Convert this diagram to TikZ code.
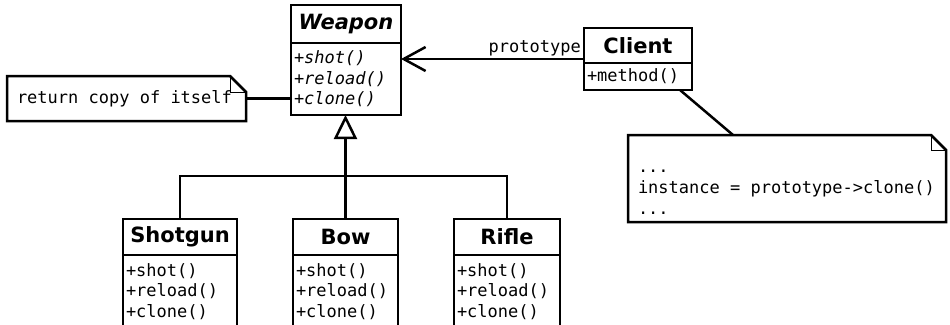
\documentclass[tikz,border=0pt]{standalone}
\usepackage{fontspec}
\setmainfont{DejaVu Sans}
\newfontfamily\monof{DejaVu Sans Mono}
\newcommand\msp{\hspace*{0.6021em}}
\usetikzlibrary{arrows.meta,calc}
\begin{document}
\begin{tikzpicture}[x=1pt,y=-1pt,
  ln/.style={line width=2.5pt},
  cname/.style={draw, ln, outer sep=0pt, inner sep=0pt, font=\fontsize{21}{24}\selectfont\bfseries},
  cmeth/.style={draw, ln, outer sep=0pt, anchor=north, align=left, inner xsep=3pt, inner ysep=0pt, font=\monof\fontsize{17}{20.5}\selectfont},
  notetext/.style={align=left, inner ysep=0pt, outer sep=0pt, font=\monof\fontsize{17}{21}\selectfont},
  fold/.style={line width=1pt}]
\useasboundingbox (0,0) rectangle (950,324);
\fill[white] (0,0) rectangle (950,324);

% Weapon
\node[cname, minimum width=110pt, minimum height=38pt] (weaponn) at (346,24) {\itshape Weapon};
\node[cmeth, text width=104pt, minimum height=72pt] (weaponm) at (weaponn.south) {\itshape +shot()\\\itshape +reload()\\\itshape +clone()};

% Client
\node[cname, minimum width=108pt, minimum height=35pt] (clientn) at (638,45.5) {Client};
\node[cmeth, text width=102pt, minimum height=27pt] (clientm) at (clientn.south) {+method()};

% Subclasses
\node[cname, minimum width=114pt, minimum height=36pt] (shotgunn) at (180,237) {Shotgun};
\node[cmeth, text width=108pt, minimum height=73pt] (shotgunm) at (shotgunn.south) {+shot()\\+reload()\\+clone()};
\node[cname, minimum width=105pt, minimum height=36pt] (bown) at (345.5,237) {Bow};
\node[cmeth, text width=99pt, minimum height=73pt] (bowm) at (bown.south) {+shot()\\+reload()\\+clone()};
\node[cname, minimum width=106pt, minimum height=36pt] (riflen) at (507,237) {Rifle};
\node[cmeth, text width=100pt, minimum height=73pt] (riflem) at (riflen.south) {+shot()\\+reload()\\+clone()};

% Notes
\node[notetext, text width=219pt, inner xsep=10pt, minimum height=45pt] (note1) at (126.5,98.5) {return\msp copy\msp of\msp itself};
\draw[ln] (note1.north west) -- ([xshift=-16pt]note1.north east) -- ([yshift=-16pt]note1.north east) -- (note1.south east) -- (note1.south west) -- cycle;
\draw[fold] ([xshift=-16pt]note1.north east) |- ([yshift=-16pt]note1.north east);

\node[notetext, text width=298pt, inner xsep=10pt, minimum height=87pt] (note2) at (787,178.5) {\rule{0pt}{29pt}...\\instance\msp=\msp prototype->clone()\\...};
\draw[ln] (note2.north west) -- ([xshift=-15pt]note2.north east) -- ([yshift=-15pt]note2.north east) -- (note2.south east) -- (note2.south west) -- cycle;
\draw[fold] ([xshift=-15pt]note2.north east) |- ([yshift=-15pt]note2.north east);

% Connectors
\draw[ln] (note1.east) -- (note1.east -| weaponm.west);
\draw[ln] ($(clientm.south east)+(-12,0)$) -- ($(note2.north west)+(105,0)$);
\draw[ln, -{Straight Barb[length=22pt, width=24pt]}] ([yshift=4pt]clientn.south west)
  node[anchor=south east, inner sep=2pt, font=\monof\fontsize{17}{20.5}\selectfont] (protolabel) {prototype}
  -- ([yshift=4pt]clientn.south west -| weaponm.east);

\coordinate (jn) at (345.5,176);
\draw[ln] (shotgunn.north) -- (shotgunn.north |- jn) -- (riflen.north |- jn) -- (riflen.north);
\draw[ln, -{Triangle[open, length=24pt, width=23pt]}] (bown.north) -- (bown.north |- weaponm.south);
\end{tikzpicture}
\end{document}
